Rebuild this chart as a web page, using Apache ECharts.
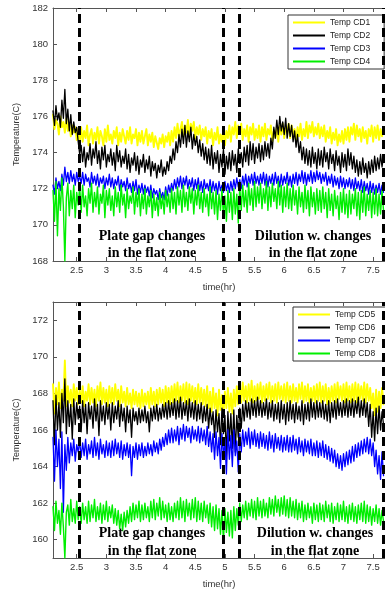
<!DOCTYPE html>
<html><head><meta charset="utf-8">
<script src="https://cdn.jsdelivr.net/npm/echarts@6/dist/echarts.min.js"></script>
<style>html,body{margin:0;padding:0;background:#fff}#c{width:385px;height:590px}</style>
</head><body><div id="c"></div>
<script>
// time grid (hr): first sample and spacing
const tStart = 2.10, tStep = 0.025;

// top panel
const cd1 = [
176.1,175.3,175.8,175.6,175.0,176.0,175.4,175.7,175.1,175.9,175.2,175.6,174.9,175.5,175.1,175.4,174.7,175.3,174.5,175.4,
174.6,175.2,174.8,175.5,174.4,175.0,175.3,174.5,175.1,174.7,175.4,174.5,175.2,174.9,174.4,175.3,174.6,175.5,174.7,175.0,
174.5,175.2,174.8,175.4,174.4,175.1,174.6,175.3,174.9,174.5,175.2,174.7,175.4,174.5,175.0,174.8,175.3,174.4,175.1,174.6,
175.2,174.5,174.9,175.3,174.4,175.0,174.6,175.1,174.3,174.9,175.0,174.2,174.8,174.5,175.0,174.3,174.9,174.6,175.1,174.4,
175.2,174.6,175.4,174.8,175.6,174.9,175.3,175.7,174.9,175.5,175.1,175.8,174.9,175.6,175.2,175.7,174.8,175.4,175.0,175.5,
174.7,175.3,174.9,175.4,174.5,175.2,174.8,175.3,174.4,175.1,174.7,175.4,174.5,175.0,174.6,175.3,174.4,175.2,174.8,175.5,
174.6,175.4,175.0,175.7,174.8,175.5,175.1,175.6,174.7,175.3,174.9,175.5,174.6,175.4,175.0,175.6,174.7,175.3,174.8,175.5,
174.6,175.4,174.9,175.6,174.7,175.3,175.0,175.5,174.6,175.2,174.8,175.4,174.6,175.5,175.0,175.6,174.8,175.4,175.1,175.6,
174.8,175.5,175.0,175.3,174.6,175.4,174.9,175.6,174.7,175.3,174.9,175.7,174.8,175.5,175.1,175.7,174.9,175.4,175.0,175.6,
174.8,175.4,174.9,175.5,174.6,175.2,174.8,175.4,174.5,175.1,174.7,175.3,174.4,175.0,174.6,175.2,174.5,175.3,174.7,175.4,
174.6,175.4,175.0,175.6,174.7,175.5,174.9,175.3,174.6,175.4,174.8,175.2,174.5,175.3,174.9,175.5,174.6,175.4,174.8,175.5,
174.7,175.3,174.9,175.4];
const cd2 = [
176.3,175.5,176.6,175.8,176.2,175.4,176.9,175.9,177.5,175.6,176.4,175.2,176.1,175.0,175.7,175.1,175.4,174.6,173.9,174.4,
173.5,174.3,173.2,174.0,173.6,174.5,173.3,174.2,173.7,174.6,173.4,174.1,173.1,174.3,173.6,174.4,173.2,173.9,173.5,174.2,
173.3,174.0,173.0,174.4,173.5,174.1,173.2,173.8,173.4,174.2,173.1,173.9,172.9,173.7,173.3,174.0,173.0,173.8,172.8,173.6,
173.2,173.9,172.9,173.6,173.1,173.8,172.7,173.5,173.0,173.4,172.6,173.3,172.9,173.6,172.7,173.2,172.8,173.5,173.0,173.8,
173.4,174.2,173.6,174.6,174.0,175.0,174.3,175.3,174.5,175.5,174.3,175.2,174.6,175.4,174.2,175.0,174.4,174.9,174.0,174.7,
173.8,174.5,173.6,174.3,173.4,174.2,173.3,174.4,173.1,174.0,173.4,174.1,172.9,173.9,173.2,174.2,172.8,173.8,173.1,174.0,
173.0,174.1,173.3,173.9,172.9,174.2,173.4,174.0,173.2,174.3,173.5,174.4,173.3,174.6,173.6,174.5,173.4,174.3,173.7,174.5,
173.5,174.4,173.6,174.6,173.8,174.5,173.7,174.8,174.2,175.4,174.8,175.8,175.0,176.0,175.2,175.7,175.0,175.9,174.8,175.6,
174.9,175.5,174.6,175.2,174.3,175.0,174.0,174.6,173.6,174.3,173.4,174.2,173.3,174.1,173.2,174.3,173.4,174.0,173.1,174.2,
173.3,174.1,173.2,174.3,173.5,174.0,173.1,174.2,173.4,173.9,173.0,174.1,173.3,173.8,172.9,174.0,173.2,173.9,173.0,174.2,
173.3,174.0,173.1,173.8,172.9,173.6,172.7,173.5,172.8,173.7,172.9,173.4,172.6,173.5,172.8,173.6,172.9,173.8,173.0,173.7,
173.1,173.9,173.2,173.8];
const cd3 = [
172.2,171.7,172.6,172.0,172.4,171.9,172.8,172.2,173.2,172.4,172.9,172.3,173.0,172.4,172.8,172.2,172.9,172.4,172.7,172.3,
172.9,172.2,172.8,172.4,172.6,172.1,172.9,172.3,172.7,172.2,172.8,172.1,172.6,172.3,172.7,172.0,172.6,172.2,172.8,172.1,
172.6,172.0,172.5,172.2,172.7,171.9,172.5,172.1,172.4,171.9,172.6,172.0,172.3,171.8,172.4,171.9,172.5,171.7,172.2,171.8,
172.3,171.7,172.2,171.8,172.1,171.6,172.2,171.5,172.0,171.7,171.9,171.4,172.0,171.5,171.8,171.4,172.1,171.6,172.2,171.8,
172.3,171.9,172.5,172.0,172.6,172.1,172.7,172.0,172.6,172.2,172.7,172.0,172.5,172.1,172.6,171.9,172.5,172.0,172.6,171.9,
172.4,171.8,172.5,172.0,172.3,171.9,172.5,171.8,172.4,171.9,172.3,171.7,172.4,171.9,172.2,171.8,172.4,171.9,172.3,171.8,
172.4,171.9,172.5,172.0,172.6,172.1,172.5,172.0,172.7,172.2,172.8,172.1,172.7,172.3,172.8,172.2,172.9,172.3,172.7,172.2,
172.8,172.3,172.9,172.2,172.8,172.1,172.7,172.3,172.8,172.2,172.9,172.3,172.7,172.1,172.8,172.2,172.7,172.3,172.9,172.2,
172.7,172.1,172.8,172.3,172.9,172.2,172.8,172.4,173.0,172.3,172.9,172.2,172.8,172.4,173.0,172.3,172.9,172.4,173.0,172.5,
172.9,172.3,172.8,172.4,172.9,172.2,172.7,172.3,172.8,172.1,172.7,172.2,172.6,172.0,172.7,172.1,172.6,172.0,172.5,172.1,
172.6,172.0,172.5,171.9,172.6,172.0,172.4,171.9,172.5,171.8,172.4,171.9,172.3,171.7,172.4,171.8,172.3,171.7,172.2,171.8,
172.3,171.7,172.2,171.8];
const cd4 = [
171.9,170.2,172.4,169.4,172.0,170.8,172.6,171.0,168.0,171.5,172.3,170.5,171.9,170.9,172.2,170.4,171.8,171.1,172.1,170.7,
172.2,171.0,171.6,170.5,172.0,171.2,172.3,170.7,171.8,171.0,172.1,170.6,171.7,171.2,172.2,170.4,171.9,171.1,172.0,170.8,
171.6,170.5,172.1,171.0,171.8,170.7,172.2,171.1,171.7,170.4,172.0,170.9,171.6,171.2,172.1,170.6,171.8,171.0,172.0,170.5,
171.7,170.9,172.0,170.6,171.6,171.0,171.9,170.4,171.7,170.8,171.5,170.5,171.8,170.9,171.6,170.6,171.9,171.0,171.7,170.7,
172.0,170.9,171.8,170.6,172.1,171.1,171.9,170.7,172.2,171.0,171.8,170.8,172.1,171.2,172.0,170.6,171.9,171.1,172.2,170.9,
171.8,170.7,172.0,171.0,171.7,170.5,172.1,170.9,171.8,170.6,171.9,170.3,171.7,170.8,172.0,170.4,171.6,170.2,171.9,170.7,
171.8,170.3,172.0,170.6,171.7,170.1,172.1,170.8,172.2,171.0,171.9,170.7,172.3,171.1,172.0,170.8,172.4,171.0,172.1,171.2,
172.3,170.9,172.0,171.2,172.4,170.8,172.1,171.0,172.3,171.3,172.0,170.9,172.4,171.1,172.2,170.7,172.1,171.0,172.3,170.9,
172.0,170.8,172.2,171.1,171.9,170.6,172.1,171.0,171.8,170.7,172.2,170.9,171.9,170.5,172.1,171.0,171.8,170.6,172.0,170.8,
171.9,170.7,172.1,170.9,171.8,170.4,172.0,170.8,171.7,170.5,171.9,170.9,171.6,170.3,171.8,170.7,172.0,170.6,171.7,170.4,
171.9,170.6,171.7,170.9,172.0,170.5,171.8,170.3,171.9,170.7,172.1,170.5,171.7,170.8,171.9,170.4,171.8,170.6,172.0,170.5,
171.7,170.6,171.9,170.8];

// bottom panel
const cd5 = [
168.5,166.9,168.3,167.4,168.6,167.2,168.2,167.6,169.8,167.3,168.4,167.5,168.2,167.3,168.5,167.6,168.3,167.4,168.2,167.5,
168.4,167.3,168.1,167.6,168.5,167.4,168.3,167.5,168.2,167.3,168.4,167.6,168.6,167.4,168.3,167.5,168.2,167.3,168.4,167.5,
168.3,167.4,168.5,167.6,168.2,167.3,168.4,167.5,168.1,167.3,168.3,167.4,168.0,167.2,168.2,167.4,168.1,167.3,168.0,167.2,
168.2,167.3,168.0,167.4,168.1,167.2,168.3,167.4,168.1,167.3,168.2,167.4,168.3,167.5,168.2,167.3,168.4,167.5,168.3,167.4,
168.4,167.5,168.5,167.6,168.6,167.5,168.4,167.6,168.5,167.5,168.6,167.4,168.5,167.6,168.4,167.5,168.3,167.4,168.5,167.5,
168.3,167.4,168.2,167.3,168.4,167.2,168.1,167.0,168.3,167.2,168.0,166.8,168.2,167.1,167.9,166.9,168.1,167.2,168.3,167.0,
168.0,166.9,168.2,167.3,168.4,167.4,168.5,167.5,168.6,167.6,168.4,167.5,168.5,167.6,168.7,167.5,168.4,167.6,168.5,167.7,
168.6,167.5,168.4,167.6,168.5,167.7,168.6,167.5,168.4,167.6,168.5,167.5,168.6,167.7,168.4,167.6,168.5,167.5,168.6,167.6,
168.4,167.5,168.5,167.6,168.3,167.5,168.5,167.7,168.6,167.5,168.4,167.6,168.5,167.5,168.3,167.6,168.4,167.5,168.5,167.6,
168.6,167.5,168.4,167.6,168.5,167.4,168.3,167.5,168.4,167.6,168.5,167.5,168.6,167.7,168.4,167.6,168.5,167.5,168.6,167.6,
168.4,167.5,168.5,167.6,168.6,167.5,168.5,167.7,168.4,167.6,168.6,167.5,168.5,167.6,168.3,167.2,168.0,166.8,168.2,167.0,
168.1,167.2,168.3,167.4];
const cd6 = [
167.6,165.2,167.9,166.0,167.5,165.6,168.0,166.4,168.8,165.8,167.6,166.2,167.4,165.5,167.7,166.3,167.5,166.6,167.3,165.9,
167.6,166.4,167.4,165.8,167.5,166.6,167.3,166.1,167.7,166.5,167.4,165.7,167.6,166.5,167.3,166.3,167.5,166.6,167.4,166.0,
167.5,166.4,167.3,166.6,167.6,166.2,167.4,166.5,167.2,165.9,167.3,166.4,167.1,165.6,167.2,166.5,167.0,166.3,167.2,166.4,
167.1,166.5,167.3,166.4,167.0,165.9,167.2,166.5,167.3,166.6,167.4,166.5,167.2,166.6,167.4,166.7,167.5,166.6,167.6,166.7,
167.5,166.8,167.7,166.6,167.6,166.7,167.8,166.6,167.5,166.8,167.6,166.5,167.7,166.7,167.5,166.6,167.6,166.5,167.4,166.6,
167.5,166.4,167.3,166.5,167.4,166.1,167.2,166.3,167.0,165.6,167.1,165.9,166.9,165.2,167.2,165.8,166.8,164.6,167.0,165.4,
166.9,165.0,167.1,164.8,166.8,165.6,167.2,166.1,167.4,166.5,167.6,166.7,167.5,166.6,167.7,166.8,167.6,166.7,167.8,166.8,
167.6,166.7,167.5,166.8,167.7,166.6,167.5,166.7,167.6,166.5,167.4,166.6,167.5,166.4,167.6,166.6,167.4,166.3,167.5,166.5,
167.6,166.6,167.4,166.4,167.5,166.6,167.3,166.5,167.6,166.3,167.4,166.6,167.5,166.5,167.7,166.7,167.5,166.6,167.6,166.7,
167.5,166.7,167.6,166.6,167.4,166.5,167.6,166.4,167.5,166.7,167.6,166.6,167.7,166.8,167.5,166.7,167.6,166.8,167.7,166.7,
167.6,166.8,167.7,166.7,167.6,166.9,167.8,166.7,167.6,166.8,167.7,166.7,167.5,166.2,167.4,165.6,167.0,165.4,167.2,165.8,
167.3,166.0,167.0,166.3];
const cd7 = [
165.6,163.2,166.0,164.0,165.5,162.8,165.9,161.5,165.2,163.8,165.6,164.2,165.3,164.6,165.5,164.3,165.2,164.8,165.4,164.5,
165.3,164.6,165.5,164.4,165.2,164.7,165.4,164.5,165.6,164.6,165.3,164.4,165.5,164.7,165.2,164.5,165.4,164.6,165.3,164.5,
165.4,164.6,165.5,164.7,165.3,164.5,165.4,164.4,165.2,164.6,165.3,164.5,165.2,163.5,165.1,164.5,165.3,164.4,165.2,164.6,
165.3,164.5,165.1,164.6,165.3,164.7,165.2,164.6,165.4,164.8,165.3,164.7,165.5,164.9,165.6,165.1,165.8,165.2,166.0,165.3,
166.1,165.3,166.0,165.4,166.2,165.2,166.1,165.5,166.3,165.4,166.2,165.6,166.1,165.3,166.2,165.5,166.0,165.4,166.2,165.3,
166.1,165.4,166.0,165.2,166.2,165.1,165.9,164.8,165.8,164.4,165.9,164.6,165.6,163.9,165.8,164.5,165.5,163.6,166.0,164.4,
165.7,164.0,166.0,164.6,165.4,163.7,165.8,164.8,166.0,165.1,165.9,165.2,166.1,165.0,165.9,165.2,166.0,165.1,165.8,165.0,
165.9,165.1,165.8,165.0,165.7,164.9,165.9,165.0,165.7,164.8,165.8,165.0,165.6,164.9,165.7,164.8,165.6,164.9,165.7,164.8,
165.6,164.8,165.7,164.9,165.5,164.7,165.6,164.8,165.4,164.6,165.5,164.8,165.4,164.7,165.5,164.6,165.3,164.6,165.4,164.5,
165.3,164.6,165.4,164.5,165.2,164.4,165.1,164.3,165.0,164.2,164.9,164.0,164.7,163.9,164.6,163.8,164.7,164.0,164.8,164.1,
164.9,164.2,165.1,164.3,165.2,164.5,165.3,164.6,165.4,164.7,165.5,164.8,165.6,164.7,165.5,164.6,165.3,164.0,164.9,163.6,
164.6,163.3,164.8,163.5];
const cd8 = [
161.8,160.5,162.1,160.9,161.6,160.3,162.0,160.7,159.0,161.5,161.9,160.8,162.2,161.0,161.7,160.9,162.1,161.1,161.8,160.9,
162.0,161.1,161.8,160.9,162.1,161.0,161.9,161.2,162.2,161.0,161.8,161.1,162.0,160.9,161.9,161.1,162.1,161.0,161.8,161.2,
161.9,160.9,161.7,160.8,161.6,160.6,161.4,160.5,161.5,160.7,161.6,160.9,161.8,161.0,162.0,161.1,161.9,161.2,162.1,161.0,
161.9,161.1,162.0,161.2,161.8,161.0,162.1,161.2,162.2,161.1,162.0,161.3,162.3,161.1,162.1,161.2,161.9,161.0,162.0,161.1,
161.8,161.0,162.0,161.2,162.1,161.1,162.3,161.2,162.1,161.0,162.2,161.3,162.0,161.1,162.2,161.2,162.3,161.0,162.1,161.1,
162.0,161.0,162.1,161.2,161.9,160.9,162.0,160.7,161.8,160.5,161.9,160.6,161.7,160.3,161.6,159.9,161.7,160.4,161.5,160.2,
161.6,160.1,161.8,160.5,161.7,160.8,162.0,161.0,161.9,161.2,162.1,161.1,162.0,161.3,162.2,161.2,162.1,161.1,162.3,161.3,
162.1,161.2,162.2,161.3,162.0,161.2,162.3,161.4,162.2,161.3,162.4,161.5,162.2,161.3,162.3,161.4,162.4,161.3,162.2,161.2,
162.3,161.3,162.1,161.2,162.2,161.1,162.0,161.2,162.1,161.0,161.9,161.1,162.0,161.2,161.8,160.9,162.0,161.1,161.9,161.0,
162.0,161.1,161.9,161.0,162.1,161.2,161.9,161.0,162.0,160.9,161.8,161.1,162.0,161.0,161.9,161.1,162.1,161.0,161.8,160.9,
161.9,161.1,162.0,161.0,161.8,160.9,161.9,161.1,162.0,161.0,162.1,160.9,161.9,161.0,161.8,160.8,161.7,161.0,161.9,160.9,
161.7,160.8,161.6,161.0];

const namesTop = ['Temp CD1','Temp CD2','Temp CD3','Temp CD4'];
const namesBot = ['Temp CD5','Temp CD6','Temp CD7','Temp CD8'];
const colors = ['#ffff00','#000000','#0000ff','#00ee00'];
const xTicks = [2.5,3,3.5,4,4.5,5,5.5,6,6.5,7,7.5];
const yTicksTop = [168,170,172,174,176,178,180,182];
const yTicksBot = [160,162,164,166,168,170,172];
const dashTimes = [2.55,4.97,5.24,7.67];
const noteLeft = ['Plate gap changes','in the flat zone'];
const noteRight = ['Dilution w. changes','in the flat zone'];
const xName = 'time(hr)', yName = 'Temperature(C)';

const SANS = "'Liberation Sans Narrow','Liberation Sans',Arial,sans-serif";
const widths = [1.9, 1.3, 1.3, 1.4];
const toPairs = v => v.map((y,i)=>[+(tStart+i*tStep).toFixed(3), y]);

function xAx(grid, pos, labels){
  return {type:'value', gridIndex:grid, position:pos, min:2.1, max:7.7,
    splitLine:{show:false},
    axisLine:{show:true, onZero:false, lineStyle:{color:'#555', width:1}},
    axisTick:{show:true, inside:true, length:4, customValues:xTicks, lineStyle:{color:'#555'}},
    axisLabel:{show:labels, customValues:xTicks, fontSize:9.5, color:'#333', margin:4, fontFamily:SANS},
    name: labels ? xName : '', nameLocation:'middle', nameGap:21,
    nameTextStyle:{fontSize:9.5, color:'#333', fontFamily:SANS}};
}
function yAx(grid, min, max, ticks){
  return {type:'value', gridIndex:grid, min:min, max:max,
    splitLine:{show:false},
    axisLine:{show:true, lineStyle:{color:'#555', width:1}},
    axisTick:{show:true, inside:true, length:4, customValues:ticks, lineStyle:{color:'#555'}},
    axisLabel:{customValues:ticks, fontSize:9.5, color:'#333', margin:5, fontFamily:SANS},
    name:yName, nameLocation:'middle', nameRotate:90, nameGap:30,
    nameTextStyle:{fontSize:9, color:'#333', fontFamily:SANS}};
}
function mkSeries(name, data, ci, xi, yi, last){
  const s = {type:'line', name:name, data:toPairs(data), xAxisIndex:xi, yAxisIndex:yi,
    showSymbol:false, symbol:'none', animation:false, silent:true, sampling:null,
    lineStyle:{color:colors[ci], width:widths[ci], join:'round', cap:'round'}, itemStyle:{color:colors[ci]}};
  if (last) {
    s.markLine = {silent:true, animation:false, symbol:['none','none'], label:{show:false},
      lineStyle:{color:'#000', width:3, type:[9,5], cap:'butt', join:'miter'},
      data: dashTimes.map(t=>({xAxis:t}))};
  }
  return s;
}
function legend(names, left, top){
  return {data:names, orient:'vertical', left:left, top:top, icon:'rect',
    itemWidth:32, itemHeight:2, itemGap:4, padding:[3,14,3,5],
    borderColor:'#333', borderWidth:1, backgroundColor:'#fff',
    textStyle:{fontSize:8.5, color:'#222', fontFamily:SANS}, selectedMode:false};
}
function note(lines, cx, y1, y2){
  return [lines[0], lines[1]].map((t,k)=>({type:'text', x:cx, y:k?y2:y1, z:100,
    style:{text:t, align:'center', verticalAlign:'middle', textAlign:'center', textVerticalAlign:'middle',
      font:'bold 14px "Liberation Serif","Times New Roman",serif', fill:'#000'}}));
}

const chart = echarts.init(document.getElementById('c'), null, {renderer:'canvas'});
const topData = [cd1,cd2,cd3,cd4], botData = [cd5,cd6,cd7,cd8];
chart.setOption({
  animation:false,
  backgroundColor:'#fff',
  grid:[{left:53, top:8, width:333, height:253}, {left:53, top:302, width:333, height:260}],
  xAxis:[xAx(0,'bottom',true), xAx(0,'top',false), xAx(1,'bottom',true), xAx(1,'top',false)],
  yAxis:[yAx(0,168,182,yTicksTop), yAx(1,159,173,yTicksBot)],
  legend:[legend(namesTop,288,15), legend(namesBot,293,307)],
  series: topData.map((d,i)=>mkSeries(namesTop[i], d, i, 0, 0, i===3))
    .concat(botData.map((d,i)=>mkSeries(namesBot[i], d, i, 2, 1, i===3))),
  graphic: [].concat(note(noteLeft,152,236,253), note(noteRight,313,236,253),
                     note(noteLeft,152,533,551), note(noteRight,315,533,551))
});
</script></body></html>
